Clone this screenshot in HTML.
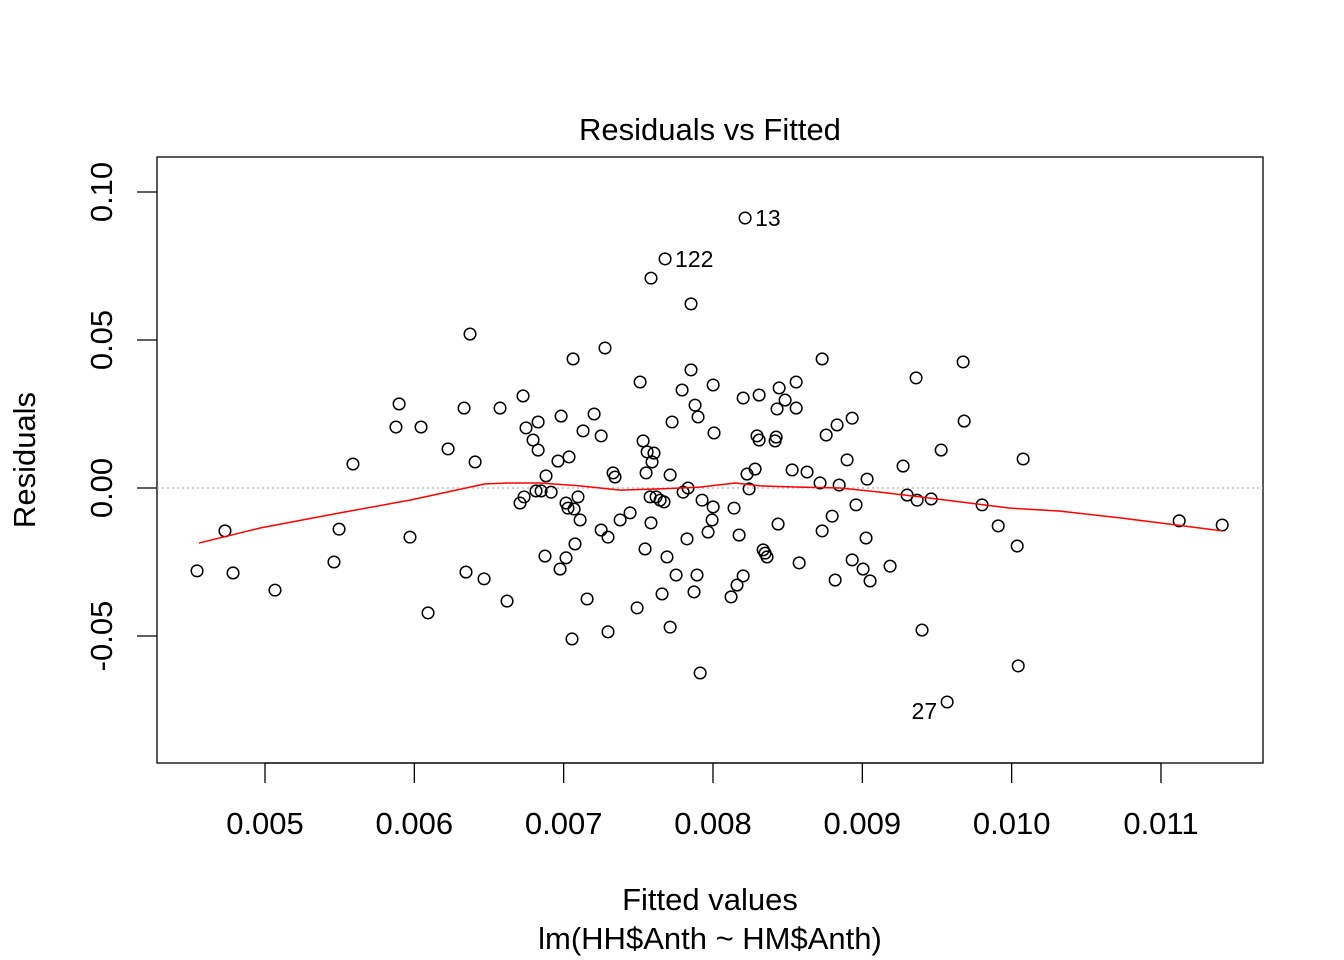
<!DOCTYPE html>
<html><head><meta charset="utf-8"><style>
html,body{margin:0;padding:0;background:#fff;}
svg{display:block;font-family:"Liberation Sans",Arial,sans-serif;}
</style></head><body>
<svg id="chart" width="1344" height="960" viewBox="0 0 1344 960" xmlns="http://www.w3.org/2000/svg"></svg>
<script>
// Data: fitted values (x, in units of 0.001) and residuals (y, in units of 0.001)
const fittedVals = [4.545,4.732,4.786,5.067,5.462,5.496,5.589,5.877,5.898,5.971,6.045,6.092,6.226,6.333,6.346,6.373,6.407,6.467,6.574,6.621,6.708,6.728,6.735,6.748,6.795,6.815,6.829,6.829,6.849,6.875,6.882,6.916,6.962,6.976,6.983,7.016,7.016,7.029,7.036,7.056,7.063,7.070,7.076,7.096,7.110,7.130,7.157,7.204,7.251,7.251,7.277,7.297,7.297,7.331,7.344,7.378,7.445,7.492,7.512,7.532,7.545,7.552,7.559,7.579,7.585,7.585,7.592,7.605,7.619,7.646,7.659,7.672,7.679,7.692,7.713,7.713,7.726,7.753,7.793,7.800,7.826,7.833,7.853,7.853,7.873,7.880,7.893,7.900,7.914,7.927,7.967,7.994,8.001,8.001,8.007,8.121,8.141,8.161,8.175,8.202,8.202,8.215,8.228,8.242,8.282,8.295,8.309,8.309,8.336,8.349,8.362,8.416,8.423,8.436,8.443,8.429,8.483,8.530,8.557,8.557,8.577,8.630,8.717,8.731,8.731,8.758,8.798,8.818,8.831,8.845,8.898,8.932,8.932,8.958,9.005,9.025,9.032,9.052,9.186,9.273,9.300,9.360,9.367,9.400,9.461,9.528,9.568,9.675,9.682,9.802,9.910,10.037,10.044,10.077,11.122,11.410];
const residualVals = [-28.0,-14.5,-28.7,-34.5,-25.0,-13.9,8.1,20.6,28.4,-16.6,20.6,-42.2,13.2,27.0,-28.4,52.0,8.8,-30.7,27.0,-38.2,-5.1,31.1,-3.0,20.3,16.2,-1.0,22.3,12.8,-1.0,-23.0,4.1,-1.4,9.1,-27.4,24.3,-5.1,-23.6,-6.8,10.5,-51.0,43.6,-7.1,-18.9,-3.0,-10.8,19.3,-37.5,25.0,-14.2,17.6,47.3,-16.6,-48.6,5.1,3.7,-10.8,-8.4,-40.5,35.8,15.9,-20.6,5.1,12.2,-3.0,70.9,-11.8,8.8,11.8,-3.0,-4.1,-35.8,-4.7,77.4,-23.3,4.4,-47.0,22.3,-29.4,33.1,-1.4,-17.2,0,39.9,62.2,-35.1,28.0,-29.4,24.0,-62.5,-4.1,-14.9,-10.8,-6.4,34.8,18.6,-36.8,-6.8,-32.8,-15.9,-29.7,30.4,91.2,4.7,-0.3,6.4,17.6,31.4,16.2,-20.9,-22.0,-23.3,15.9,17.2,-12.2,33.8,26.7,29.7,6.1,27.0,35.8,-25.3,5.4,1.7,43.6,-14.5,17.9,-9.5,-31.1,21.3,1.0,9.5,23.6,-24.3,-5.7,-27.4,-16.9,3.0,-31.4,-26.4,7.4,-2.4,37.2,-4.1,-48.0,-3.7,12.8,-72.3,42.6,22.6,-5.7,-12.8,-19.6,-60.1,9.8,-11.1,-12.5];
// Labelled outliers
const outlierNames = ["13","122","27"];
const outlierX = [8.215,7.679,9.568];
const outlierY = [91.2,77.4,-72.3];
// Smoother (lowess) line
const smoothX = [4.558,4.967,5.502,5.971,6.373,6.474,6.641,6.842,7.110,7.378,7.646,7.914,8.148,8.316,8.583,8.851,9.119,9.387,9.655,9.990,10.325,10.727,11.410];
const smoothY = [-18.6,-13.5,-8.4,-4.1,0.3,1.4,1.7,1.7,0.7,-0.7,-0.3,0.3,1.7,0.7,0.3,0,-1.4,-3.0,-4.7,-6.8,-7.8,-10.1,-14.5];
// Ticks
const xTicks = [5,6,7,8,9,10,11];
const xTickLabels = ["0.005","0.006","0.007","0.008","0.009","0.010","0.011"];
const yTicks = [-50,0,50,100];
const yTickLabels = ["-0.05","0.00","0.05","0.10"];

const NS="http://www.w3.org/2000/svg";
const svg=document.getElementById('chart');
const X=v=>265+(v-5)*149.33;
const Y=v=>488-v*2.96;
function mk(tag,attrs,parent){const e=document.createElementNS(NS,tag);for(const k in attrs)e.setAttribute(k,attrs[k]);(parent||svg).appendChild(e);return e;}

const title=mk('text',{x:710,y:140,'text-anchor':'middle','font-size':31,fill:'#000'});


title.textContent='Residuals vs Fitted';

const box=mk('rect',{x:157,y:157,width:1106,height:606,fill:'none',stroke:'#000','stroke-width':1.3});



const zero=mk('line',{x1:157,x2:1263,y1:Y(0),y2:Y(0),stroke:'#b0b0b0','stroke-width':1.3,'stroke-dasharray':'2,3'});



const xAxis=mk('g',{});


xTicks.forEach((t,i)=>{
  const l=mk('line',{x1:X(t),x2:X(t),y1:763,y2:783,stroke:'#000','stroke-width':1.3},xAxis);
  
  
  const tx=mk('text',{x:X(t),y:834,'text-anchor':'middle','font-size':31},xAxis);
  
  
  tx.textContent=xTickLabels[i];
});
mk('line',{x1:X(xTicks[0]),x2:X(xTicks[xTicks.length-1]),y1:763,y2:763,stroke:'#000','stroke-width':1.3},xAxis);

const yAxis=mk('g',{});


yTicks.forEach((t,i)=>{
  const l=mk('line',{x1:137,x2:157,y1:Y(t),y2:Y(t),stroke:'#000','stroke-width':1.3},yAxis);
  
  
  const tx=mk('text',{x:0,y:0,'text-anchor':'middle','font-size':31,transform:`translate(112,${Y(t)}) rotate(-90)`},yAxis);
  
  
  tx.textContent=yTickLabels[i];
});

const xt=mk('text',{x:710,y:910,'text-anchor':'middle','font-size':31});


xt.textContent='Fitted values';
const xs=mk('text',{x:710,y:949,'text-anchor':'middle','font-size':31});


xs.textContent='lm(HH$Anth ~ HM$Anth)';
const yt=mk('text',{x:0,y:0,'text-anchor':'middle','font-size':31,transform:'translate(35,460) rotate(-90)'});


yt.textContent='Residuals';

const pts=mk('g',{});


fittedVals.forEach((v,i)=>{
  const c=mk('circle',{cx:X(v),cy:Y(residualVals[i]),r:5.8,fill:'none',stroke:'#000','stroke-width':1.5},pts);
  
  
});

const sm=mk('polyline',{points:smoothX.map((v,i)=>X(v)+','+Y(smoothY[i])).join(' '),fill:'none',stroke:'#ff0000','stroke-width':1.5});



outlierNames.forEach((n,i)=>{
  const right = outlierY[i]>0;
  const t=mk('text',{x:X(outlierX[i])+(right?10:-10),y:Y(outlierY[i])+(right?8:17),'text-anchor':right?'start':'end','font-size':23});
  
  
  t.textContent=n;
});
</script>
</body></html>
